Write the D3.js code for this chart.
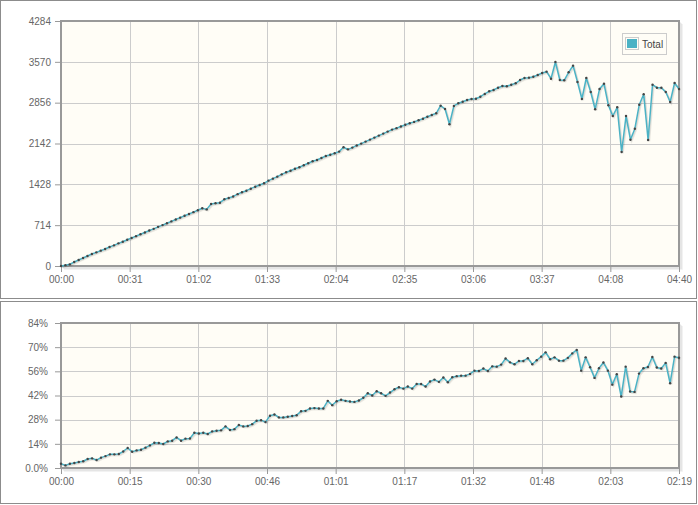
<!DOCTYPE html>
<html><head><meta charset="utf-8">
<script src="https://cdn.jsdelivr.net/npm/d3@7"></script>
<style>body{margin:0;background:#fff}svg{display:block}</style>
</head><body>
<svg id="chart" width="698" height="505"></svg>
<script>
// ---------- DATA ----------
const seriesName = "Total";
// top chart: one reading every 2 minutes, 00:00 .. 04:40
const topStepMinutes = 2;
const topValues = [
  0, 15, 29, 70, 105, 140, 175, 210, 239, 268, 297, 332, 361, 396, 425, 460, 490,
  522, 555, 585, 620, 650, 685, 715, 748, 780, 812, 845, 878, 910, 942, 974,
  1009, 990, 1084, 1096, 1107, 1166, 1190, 1216, 1256, 1289, 1317, 1352, 1387, 1416, 1446, 1492,
  1527, 1562, 1603, 1638, 1666, 1701, 1726, 1761, 1796, 1831, 1853, 1888, 1923, 1946, 1971,
  2000, 2076, 2040, 2070, 2108, 2140, 2175, 2210, 2245, 2280, 2315, 2350, 2385, 2410, 2440,
  2470, 2495, 2520, 2548, 2576, 2611, 2640, 2670, 2803, 2745, 2478, 2798, 2845, 2873, 2903,
  2920, 2925, 2960, 3008, 3055, 3078, 3118, 3147, 3142, 3170, 3195, 3252, 3287, 3293, 3310,
  3340, 3375, 3398, 3275, 3567, 3252, 3247, 3387, 3503, 3218, 2920, 3287, 3043, 2740, 3095,
  3188, 2810, 2623, 2775, 1993, 2623, 2208, 2401, 2820, 3002, 2203, 3170, 3118, 3118, 3043,
  2868, 3200, 3095
];
const topXMax = 280;
const topXTickLabels = ["00:00","00:31","01:02","01:33","02:04","02:35","03:06","03:37","04:08","04:40"];
const topYTicks = [0, 714, 1428, 2142, 2856, 3570, 4284];
const topYTickLabels = ["0","714","1428","2142","2856","3570","4284"];

// bottom chart: one reading every minute, 00:00 .. 02:19 (percent)
const bottomStepMinutes = 1;
const bottomValues = [
  2.5, 1.5, 2.5, 2.9, 3.5, 3.9, 5.2, 5.6, 4.6, 6.0, 6.9, 7.9, 7.9, 8.1, 9.6, 11.6, 9.4, 10.2, 10.6, 11.8,
  13.1, 14.6, 14.5, 13.9, 15.4, 15.8, 17.7, 15.8, 17.0, 17.1, 20.4, 20.0, 20.4, 19.7, 21.2, 21.6, 21.8, 24.1,
  22.0, 22.5, 24.9, 24.1, 24.3, 25.4, 27.4, 27.7, 26.6, 30.3, 31.0, 29.3, 29.3, 29.7, 30.1, 30.6, 32.9, 33.1,
  34.5, 34.7, 34.5, 34.5, 38.9, 36.4, 38.7, 39.5, 38.9, 38.5, 38.3, 39.1, 40.7, 43.3, 42.0, 44.5, 43.3, 41.8,
  43.7, 45.6, 46.8, 46.0, 47.2, 46.0, 48.7, 48.7, 47.2, 50.1, 51.2, 49.9, 52.4, 49.7, 52.6, 53.2, 53.5, 53.5,
  54.5, 56.4, 56.2, 57.6, 56.2, 58.9, 58.7, 59.9, 63.4, 61.2, 60.1, 62.0, 62.0, 63.6, 60.1, 62.4, 64.5, 67.0,
  63.0, 64.1, 62.2, 62.2, 63.8, 66.4, 68.4, 56.4, 64.1, 58.4, 52.2, 57.8, 61.1, 56.4, 48.3, 54.3, 41.4, 58.7,
  44.3, 44.1, 54.7, 57.8, 58.5, 64.3, 58.2, 57.6, 60.9, 49.1, 64.5, 63.9
];
const bottomXMax = 139;
const bottomXTickLabels = ["00:00","00:15","00:30","00:46","01:01","01:17","01:32","01:48","02:03","02:19"];
const bottomYTicks = [0, 14, 28, 42, 56, 70, 84];
const bottomYTickLabels = ["0.0%","14%","28%","42%","56%","70%","84%"];

// ---------- STYLE ----------
const lineColor = "#4bb2c5";
const gridColor = "#cccccc";
const frameColor = "#999999";
const plotBg = "#fffdf6";
const fontFamily = "'Liberation Sans', Arial, sans-serif";

const svg = d3.select("#chart");

// panels
svg.append("rect").attr("x",0.5).attr("y",0.5).attr("width",696).attr("height",298)
  .attr("fill","#fff").attr("stroke","#8c8c8c").attr("stroke-width",1);
svg.append("rect").attr("x",0.5).attr("y",301.5).attr("width",696).attr("height",202)
  .attr("fill","#fff").attr("stroke","#8c8c8c").attr("stroke-width",1);

function drawChart(cfg) {
  const g = svg.append("g");
  const x = d3.scaleLinear().domain([0, cfg.xMax]).range([cfg.left, cfg.right]);
  const y = d3.scaleLinear().domain([0, cfg.yMax]).range([cfg.bottom, cfg.top]);

  // background
  g.append("rect").attr("x",cfg.left).attr("y",cfg.top)
    .attr("width",cfg.right-cfg.left).attr("height",cfg.bottom-cfg.top).attr("fill",plotBg);

  const xTickVals = cfg.xLabels.map((d,i) => i * cfg.xMax / (cfg.xLabels.length - 1));

  // grid
  g.append("g").selectAll("line").data(cfg.yTicks.slice(1,-1)).join("line")
    .attr("x1",cfg.left).attr("x2",cfg.right)
    .attr("y1",d=>Math.round(y(d))+0.5).attr("y2",d=>Math.round(y(d))+0.5)
    .attr("stroke",gridColor).attr("stroke-width",1);
  g.append("g").selectAll("line").data(xTickVals.slice(1,-1)).join("line")
    .attr("x1",d=>Math.round(x(d))+0.5).attr("x2",d=>Math.round(x(d))+0.5)
    .attr("y1",cfg.top).attr("y2",cfg.bottom)
    .attr("stroke",gridColor).attr("stroke-width",1);

  // frame shadow
  for (let k = 1; k <= 3; k++) {
    g.append("path")
      .attr("d",`M${cfg.right+k},${cfg.top+k} L${cfg.right+k},${cfg.bottom+k} L${cfg.left+k},${cfg.bottom+k}`)
      .attr("fill","none").attr("stroke","rgba(0,0,0,0.07)").attr("stroke-width",1.5);
  }
  // frame
  g.append("rect").attr("x",cfg.left).attr("y",cfg.top)
    .attr("width",cfg.right-cfg.left).attr("height",cfg.bottom-cfg.top)
    .attr("fill","none").attr("stroke",frameColor).attr("stroke-width",2);

  // axes
  const yAxis = d3.axisLeft(y).tickValues(cfg.yTicks)
    .tickFormat((d,i)=>cfg.yLabels[i]).tickSize(5).tickPadding(cfg.yPad);
  const ya = g.append("g").attr("transform",`translate(${cfg.left-1},0)`).call(yAxis);
  const xAxis = d3.axisBottom(x).tickValues(xTickVals)
    .tickFormat((d,i)=>cfg.xLabels[i]).tickSize(5).tickPadding(4);
  const xa = g.append("g").attr("transform",`translate(0,${cfg.bottom+1})`).call(xAxis);
  [ya, xa].forEach(a => {
    a.select(".domain").remove();
    a.selectAll(".tick line").attr("stroke",frameColor).attr("stroke-width",1);
    a.selectAll(".tick text").attr("fill","#666").attr("font-size","10px").attr("font-family",fontFamily);
  });

  // line shadow
  const line = d3.line().x((d,i)=>x(i*cfg.step)).y(d=>y(d));
  for (let k = 1; k <= 2; k++) {
    g.append("path").datum(cfg.values).attr("d",line)
      .attr("transform",`translate(${k*0.7},${k*0.7})`)
      .attr("fill","none").attr("stroke","rgba(0,0,0,0.08)").attr("stroke-width",1.6);
  }
  g.append("path").datum(cfg.values).attr("d",line)
    .attr("fill","none").attr("stroke",lineColor).attr("stroke-width",1.5)
    .attr("stroke-linejoin","round");
  g.append("g").selectAll("circle").data(cfg.values).join("circle")
    .attr("cx",(d,i)=>x(i*cfg.step)).attr("cy",d=>y(d)).attr("r",1.2)
    .attr("fill","#444");
  return {x, y};
}

drawChart({
  left:61, right:679, top:21, bottom:266,
  xMax: topXMax, yMax: topYTicks[topYTicks.length-1],
  xLabels: topXTickLabels, yTicks: topYTicks, yLabels: topYTickLabels,
  values: topValues, step: topStepMinutes, yPad: 4
});
drawChart({
  left:61, right:679, top:323, bottom:468,
  xMax: bottomXMax, yMax: bottomYTicks[bottomYTicks.length-1],
  xLabels: bottomXTickLabels, yTicks: bottomYTicks, yLabels: bottomYTickLabels,
  values: bottomValues, step: bottomStepMinutes, yPad: 7
});

// legend
const lg = svg.append("g");
lg.append("rect").attr("x",622.5).attr("y",33.5).attr("width",44).attr("height",21)
  .attr("fill",plotBg).attr("stroke","#cccccc");
lg.append("rect").attr("x",625.5).attr("y",37.5).attr("width",13).attr("height",12)
  .attr("fill","none").attr("stroke","#cccccc");
lg.append("rect").attr("x",627).attr("y",39).attr("width",10).attr("height",9)
  .attr("fill",lineColor);
lg.append("text").attr("x",642).attr("y",48).text(seriesName)
  .attr("font-size","10px").attr("font-family",fontFamily).attr("fill","#444");
</script>
</body></html>
